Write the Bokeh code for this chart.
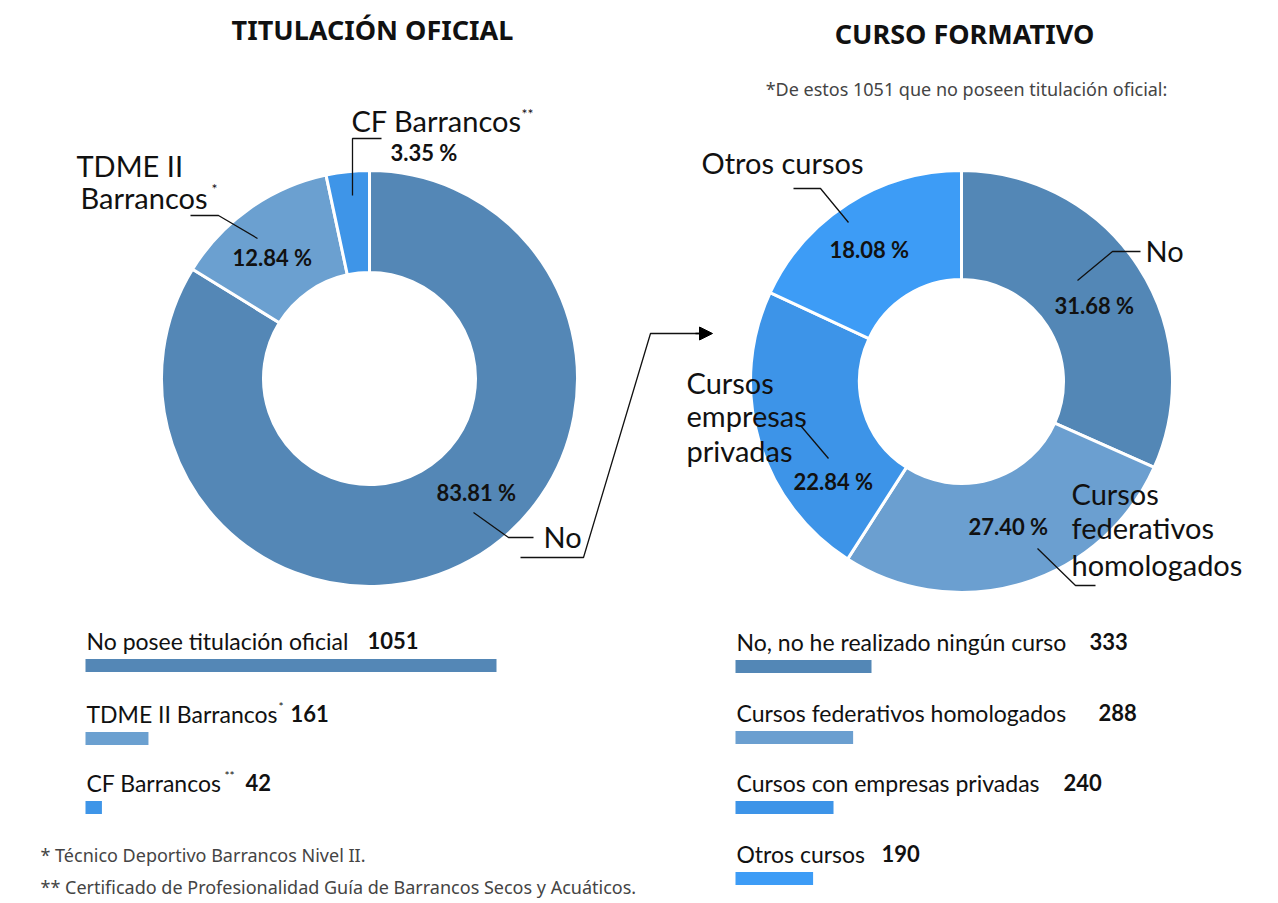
import numpy as np
from bokeh.plotting import figure
from bokeh.models import Range1d, Arrow, NormalHead
from bokeh.core.properties import value
from bokeh.embed import file_html
from bokeh.resources import INLINE

# ---------------- data ----------------
tit_labels = ["No", "TDME II Barrancos*", "CF Barrancos**"]
tit_pct = [83.81, 12.84, 3.35]
tit_counts = [1051, 161, 42]
tit_bar_labels = ["No posee titulación oficial", "TDME II Barrancos", "CF Barrancos"]
tit_colors = ["#5487b6", "#6ba0d0", "#3e95e8"]

cur_labels = ["No", "Cursos federativos homologados", "Cursos empresas privadas", "Otros cursos"]
cur_pct = [31.68, 27.40, 22.84, 18.08]
cur_counts = [333, 288, 240, 190]
cur_bar_labels = ["No, no he realizado ningún curso", "Cursos federativos homologados",
                  "Cursos con empresas privadas", "Otros cursos"]
cur_colors = ["#5387b6", "#6b9fd0", "#3d94e8", "#3d9cf6"]

# ---------------- canvas ----------------
W, H = 1270, 900
p = figure(width=W, height=H, x_range=Range1d(0, W), y_range=Range1d(-H, 0),
           output_backend="svg", toolbar_location=None, min_border=0)
p.axis.visible = False
p.grid.visible = False
p.outline_line_color = None
p.background_fill_color = "white"
p.border_fill_color = "white"

LBL = value("Lato")
TTL = value("Noto Sans")
INK = "#111111"


def Y(v):
    return [-t for t in v] if isinstance(v, (list, tuple)) else -v


def donut(cx, cy, r_in, r_out, pct, colors):
    frac = np.array(pct) / sum(pct)
    cum = np.concatenate([[0], np.cumsum(frac)])
    start = np.pi / 2 - 2 * np.pi * cum[1:]
    end = np.pi / 2 - 2 * np.pi * cum[:-1]
    n = len(pct)
    p.annular_wedge(x=[cx] * n, y=[Y(cy)] * n, inner_radius=r_in, outer_radius=r_out,
                    start_angle=list(start), end_angle=list(end), fill_color=colors,
                    line_color="white", line_width=3)


donut(369, 378, 106, 208, tit_pct, tit_colors)
donut(961, 381, 102, 211, cur_pct, cur_colors)


def txt(x, y, s, size, bold=False, font=LBL, color=INK, align="left"):
    p.text(x=[x], y=[Y(y)], text=[s], text_font=font, text_font_size=size,
           text_font_style="bold" if bold else "normal", text_color=color,
           text_align=align, text_baseline="middle")


def leader(xs, ys, w=1.3):
    p.line(x=xs, y=Y(ys), line_color="#111111", line_width=w)


DL = "29px"   # donut label size
PL = "22px"   # percent label size

# titles
txt(372, 29, "TITULACIÓN OFICIAL", "27px", bold=True, font=TTL, align="center")
txt(964, 33, "CURSO FORMATIVO", "27px", bold=True, font=TTL, align="center")
txt(966, 88, "*De estos 1051 que no poseen titulación oficial:", "18px", font=TTL,
    color="#444444", align="center")

# left donut labels
txt(76, 165, "TDME II", DL)
txt(80, 197, "Barrancos", DL)
txt(211, 188, "*", "14px")
txt(351, 120, "CF Barrancos", DL)
txt(521, 113, "**", "14px")
txt(390, 152, f"{tit_pct[2]:.2f} %", PL, bold=True)
txt(232, 257, f"{tit_pct[1]:.2f} %", PL, bold=True)
txt(436, 492, f"{tit_pct[0]:.2f} %", PL, bold=True)
txt(543, 536, tit_labels[0], DL)

leader([473, 508, 533], [512, 537, 537])
leader([190, 218, 257], [215, 215, 238])
leader([352, 352, 381], [195, 138, 138])

# arrow between charts
leader([520, 583, 650, 700], [557, 557, 333, 333])
p.add_layout(Arrow(end=NormalHead(size=13, fill_color="black", line_color="black"),
                   x_start=695, y_start=Y(333), x_end=712, y_end=Y(333),
                   line_color="black", line_width=1.3))

# right donut labels
txt(701, 162, cur_labels[3], DL)
txt(829, 249, f"{cur_pct[3]:.2f} %", PL, bold=True)
txt(1145, 250, cur_labels[0], DL)
txt(1054, 305, f"{cur_pct[0]:.2f} %", PL, bold=True)
txt(686, 382, "Cursos", DL)
txt(686, 415, "empresas", DL)
txt(686, 450, "privadas", DL)
txt(793, 481, f"{cur_pct[2]:.2f} %", PL, bold=True)
txt(1071, 493, "Cursos", DL)
txt(1071, 527, "federativos", DL)
txt(1071, 564, "homologados", DL)
txt(968, 526, f"{cur_pct[1]:.2f} %", PL, bold=True)

leader([793, 820, 848], [188, 188, 222])
leader([1077, 1112, 1140], [280, 251, 251])
leader([800, 828], [425, 458])
leader([1037, 1075, 1095], [548, 585, 585])

# ---------------- bar lists ----------------
BL = "23px"
BN = "22px"
left_x0, left_scale = 85, 411 / 1051
left_label_y = [640, 713, 782]
left_num_x = [367, 290, 245]
bar_h = 13
ys = [y + 25 for y in left_label_y]
p.hbar(y=Y(ys), left=left_x0, right=[left_x0 + v * left_scale for v in tit_counts],
       height=bar_h, fill_color=tit_colors, line_color=None)
for lab, cnt, ly, nx in zip(tit_bar_labels, tit_counts, left_label_y, left_num_x):
    txt(86, ly, lab, BL)
    txt(nx, ly, str(cnt), BN, bold=True)
txt(278, 706, "*", "12px")
txt(224, 775, "**", "12px")

right_x0, right_scale = 735, 136 / 333
right_label_y = [641, 712, 782, 853]
right_num_x = [1089, 1098, 1063, 881]
ys = [y + 25 for y in right_label_y]
p.hbar(y=Y(ys), left=right_x0, right=[right_x0 + v * right_scale for v in cur_counts],
       height=bar_h, fill_color=cur_colors, line_color=None)
for lab, cnt, ly, nx in zip(cur_bar_labels, cur_counts, right_label_y, right_num_x):
    txt(736, ly, lab, BL)
    txt(nx, ly, str(cnt), BN, bold=True)

# footnotes
txt(40, 854, "* Técnico Deportivo Barrancos Nivel II.", "18px", font=TTL, color="#444444")
txt(40, 886, "** Certificado de Profesionalidad Guía de Barrancos Secos y Acuáticos.", "18px",
    font=TTL, color="#444444")

open("out.html", "w").write(file_html(p, INLINE))
